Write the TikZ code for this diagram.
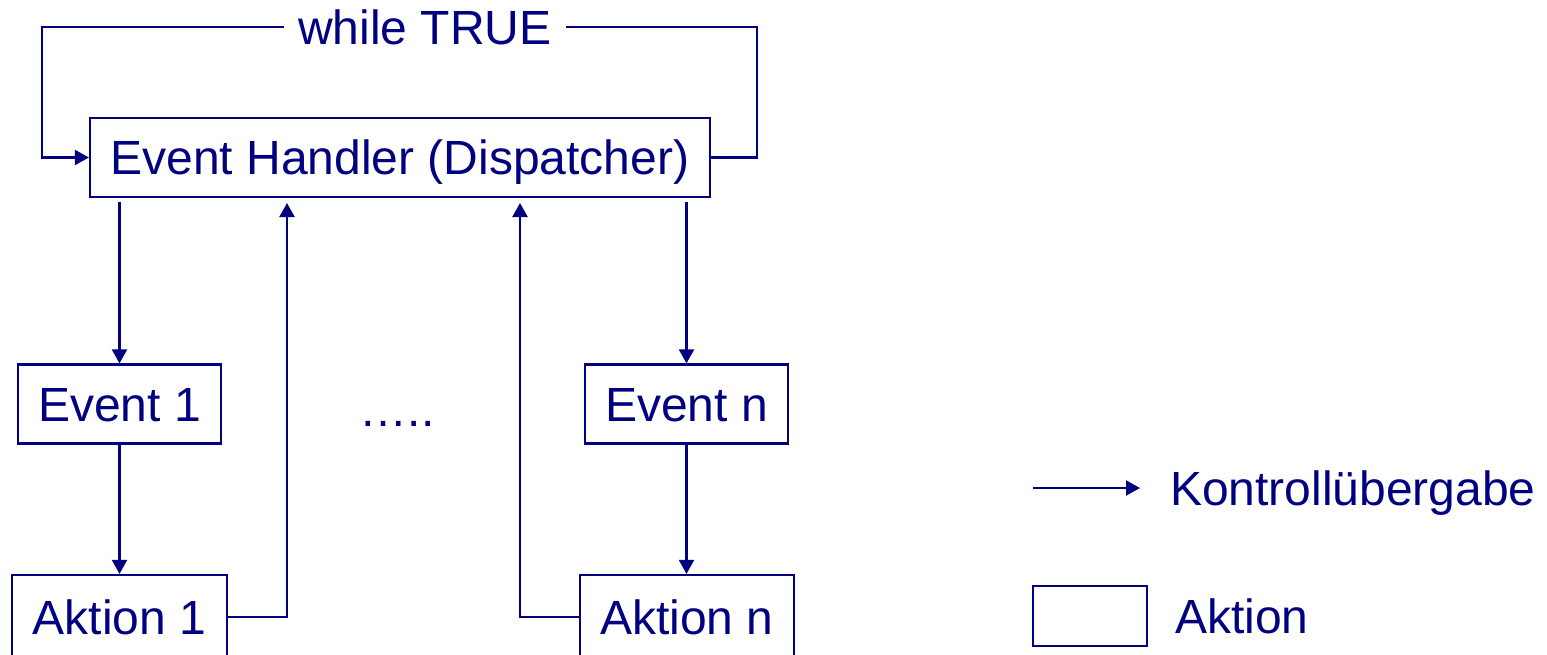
\documentclass[tikz,border=0pt]{standalone}
\usepackage{fontspec}
\setmainfont{Liberation Sans}
\usetikzlibrary{arrows.meta}
\definecolor{navy}{RGB}{0,0,128}

\begin{document}
\begin{tikzpicture}[x=0.5pt,y=-0.5pt,navy,line width=1.1pt,
  box/.style={draw,inner sep=0pt,minimum height=39.5pt,text height=17.2pt,text depth=0pt,font=\fontsize{24}{28}\selectfont},
  lbl/.style={inner sep=0pt,font=\fontsize{24}{28}\selectfont},
  ctl/.style={-{Triangle[length=7pt,width=7.5pt]}}]
\useasboundingbox (0,0) rectangle (1547,654);
\clip (0,0) rectangle (1547,654);
\node[box,minimum width=310pt] (handler) at (400,157.5) {Event Handler (Dispatcher)};
\node[lbl,minimum width=140pt,minimum height=20pt] (wt) at (425,27) {while TRUE};
\node[box,minimum width=101.5pt] (ev1) at (119.5,404) {Event 1};
\node[box,minimum width=101.5pt] (evn) at (686.5,404) {Event n};
\node[box,minimum width=107.5pt,minimum height=42pt] (ak1) at (119.5,617) {Aktion 1};
\node[box,minimum width=107pt,minimum height=42pt] (akn) at (687,617) {Aktion n};
\node[lbl,anchor=base] (dots) at (397,426) {…..};
\coordinate (loopL) at (42,27);
\coordinate (loopR) at (757,27);
\coordinate (up1) at (287,203);
\coordinate (upn) at (520,203);
\draw (handler.east) -| (loopR) -- (wt.east);
\draw[ctl] (wt.west) -- (loopL) |- (handler.west);
\draw[ctl,shorten <=2pt] (ev1.north |- handler.south) -- (ev1.north);
\draw[ctl,shorten <=2pt] (evn.north |- handler.south) -- (evn.north);
\draw[ctl] (ev1.south) -- (ak1.north);
\draw[ctl] (evn.south) -- (evn.south |- akn.north);
\draw[ctl] (ak1.east) -| (up1);
\draw[ctl] (akn.west) -| (upn);
\coordinate (legA) at (1033,488);
\coordinate (legB) at (1140,488);
\draw[ctl] (legA) -- (legB);
\node[lbl,anchor=base west] (kontr) at (1169,505) {Kontrollübergabe};
\node[draw,inner sep=0pt,minimum width=57pt,minimum height=30pt] (legbox) at (1090,616) {};
\node[lbl,anchor=base west] (aktion) at (1174,633) {Aktion};
\end{tikzpicture}
\end{document}
